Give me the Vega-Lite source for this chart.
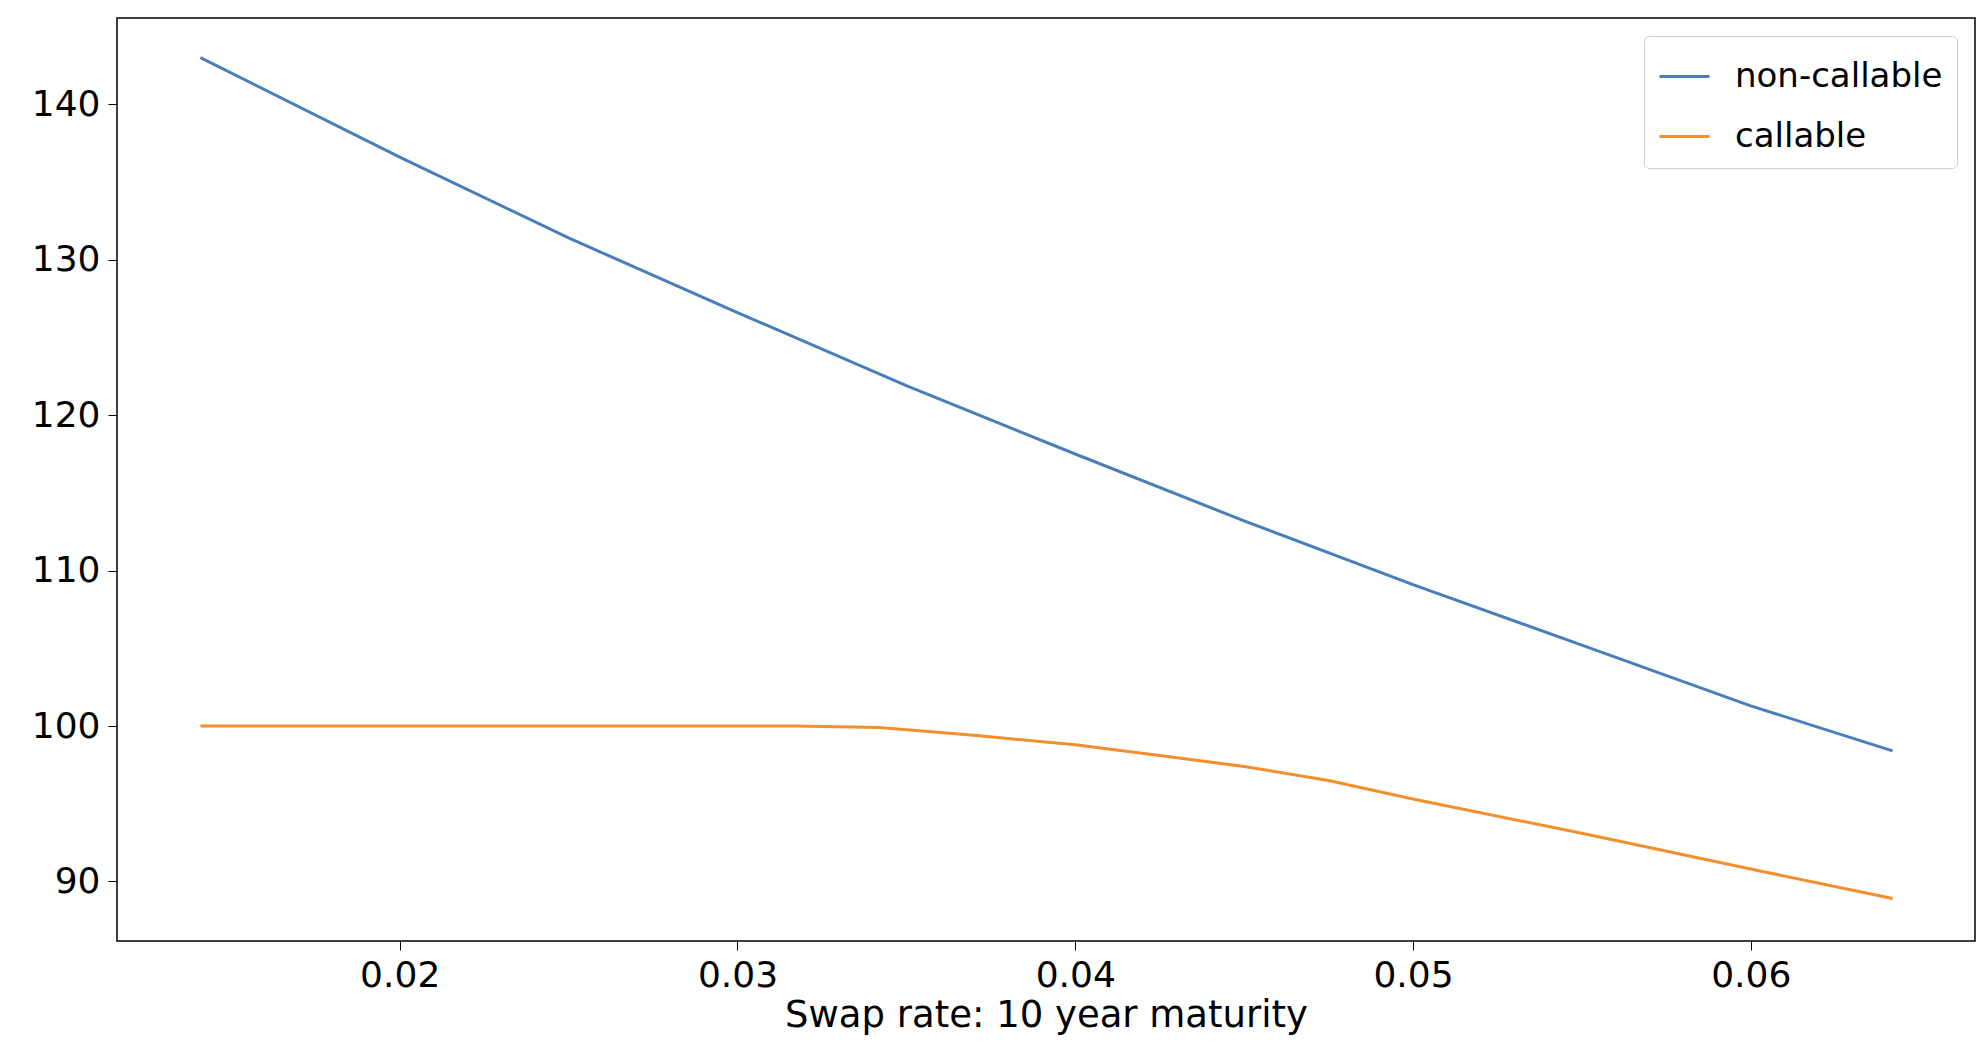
{
"$schema":"https://vega.github.io/schema/vega-lite/v6.json",
"autosize":{"type":"none"},
"width":1858,"height":923,
"padding":{"left":117,"top":18,"right":13,"bottom":121},
"background":"white",
"config":{"view":{"stroke":"black","strokeWidth":1.5},"font":"DejaVu Sans"},
"data":{"values":[
{"x":0.0141,"y":143.0,"s":"non-callable"},
{"x":0.02,"y":136.6,"s":"non-callable"},
{"x":0.025,"y":131.4,"s":"non-callable"},
{"x":0.03,"y":126.6,"s":"non-callable"},
{"x":0.035,"y":121.9,"s":"non-callable"},
{"x":0.04,"y":117.5,"s":"non-callable"},
{"x":0.045,"y":113.2,"s":"non-callable"},
{"x":0.05,"y":109.1,"s":"non-callable"},
{"x":0.055,"y":105.2,"s":"non-callable"},
{"x":0.06,"y":101.3,"s":"non-callable"},
{"x":0.0642,"y":98.4,"s":"non-callable"},
{"x":0.0141,"y":100.0,"s":"callable"},
{"x":0.025,"y":100.0,"s":"callable"},
{"x":0.0317,"y":100.0,"s":"callable"},
{"x":0.0342,"y":99.9,"s":"callable"},
{"x":0.037,"y":99.4,"s":"callable"},
{"x":0.04,"y":98.8,"s":"callable"},
{"x":0.0425,"y":98.1,"s":"callable"},
{"x":0.045,"y":97.4,"s":"callable"},
{"x":0.0475,"y":96.5,"s":"callable"},
{"x":0.05,"y":95.3,"s":"callable"},
{"x":0.055,"y":93.1,"s":"callable"},
{"x":0.06,"y":90.8,"s":"callable"},
{"x":0.0642,"y":88.9,"s":"callable"}
]},
"mark":{"type":"line","strokeWidth":3},
"encoding":{
"x":{"field":"x","type":"quantitative","scale":{"domain":[0.01163,0.06664],"nice":false,"zero":false},
 "axis":{"values":[0.02,0.03,0.04,0.05,0.06],"format":".2f","grid":false,"title":"Swap rate: 10 year maturity","titleFontSize":37,"titleFontWeight":"normal","titleColor":"black","labelFontSize":36,"labelColor":"black","tickColor":"black","domain":false,"tickSize":9,"labelPadding":8,"titlePadding":4}},
"y":{"field":"y","type":"quantitative","scale":{"domain":[86.17,145.55],"nice":false,"zero":false},
 "axis":{"values":[90,100,110,120,130,140],"grid":false,"title":null,"labelFontSize":36,"labelColor":"black","tickColor":"black","domain":false,"tickSize":9,"labelPadding":8}},
"color":{"field":"s","type":"nominal","sort":["non-callable","callable"],"scale":{"domain":["non-callable","callable"],"range":["#4a7ebb","#f28e2b"]},
 "legend":{"title":null,"orient":"top-right","offset":18,"labelFontSize":34,"labelLimit":400,"labelColor":"black","symbolType":"stroke","symbolSize":2500,"symbolStrokeWidth":3,"strokeColor":"#cccccc","fillColor":"white","padding":14,"cornerRadius":5,"rowPadding":16,"labelOffset":24}}
}
}
